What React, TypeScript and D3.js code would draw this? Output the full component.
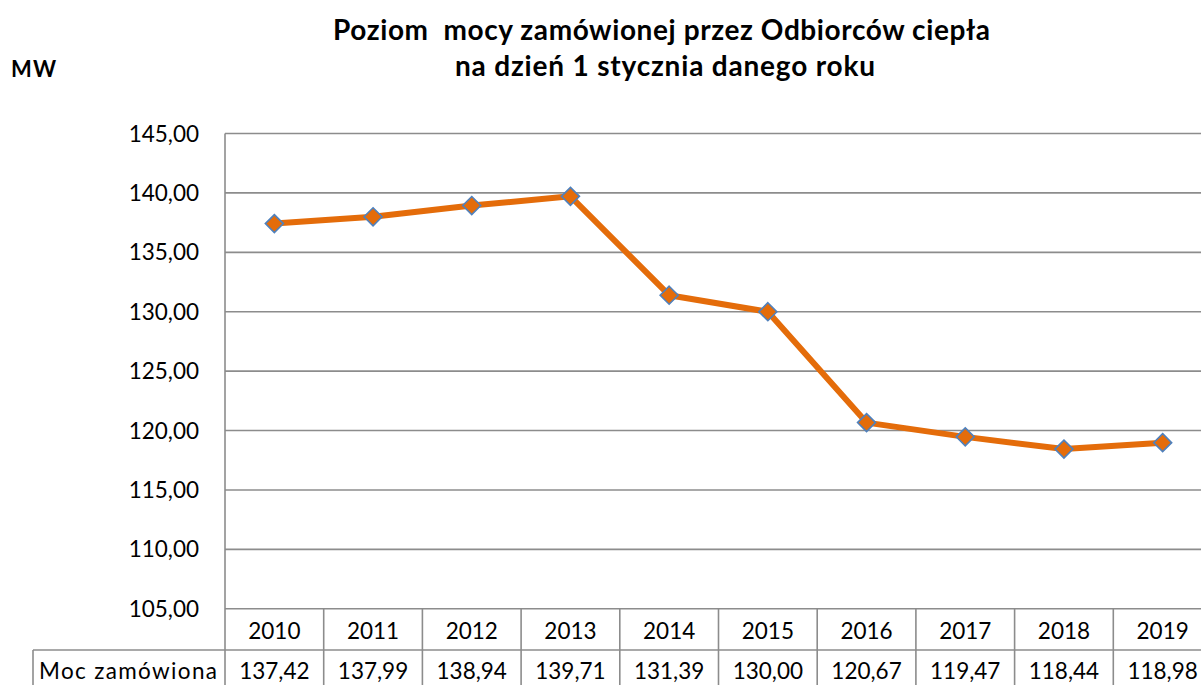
import React from "react";
import * as d3 from "d3";

const years = ["2010", "2011", "2012", "2013", "2014", "2015", "2016", "2017", "2018", "2019"];
const values = [137.42, 137.99, 138.94, 139.71, 131.39, 130.0, 120.67, 119.47, 118.44, 118.98];
const yTicks = [105, 110, 115, 120, 125, 130, 135, 140, 145];
const seriesName = "Moc zamówiona";
const titleLines = ["Poziom  mocy zamówionej przez Odbiorców ciepła", "na dzień 1 stycznia danego roku"];
const unitLabel = "MW";

const W = 1201;
const H = 685;
const FONT = "Lato, 'Noto Sans', sans-serif";
const GRID = "#8c8c8c";

export default function App() {
  const left = 225;
  const colW = 98.7;
  const right = left + colW * years.length;
  const top = 133.5;
  const bottom = 608.8;
  const rowMid = 650;
  const tableBottom = 690;
  const headerLeft = 33;

  const x = d3.scaleBand<string>().domain(years).range([left, right]).padding(0);
  const y = d3.scaleLinear().domain([105, 145]).range([bottom, top]);
  const fmt = (v: number) => d3.format(".2f")(v).replace(".", ",");

  const line = d3
    .line<number>()
    .x((_, i) => (x(years[i]) as number) + x.bandwidth() / 2)
    .y((d) => y(d));

  const diamond = (cx: number, cy: number, r: number) =>
    `M${cx},${cy - r}L${cx + r},${cy}L${cx},${cy + r}L${cx - r},${cy}Z`;

  const titleWidths = [657, 420];
  const titleCx = [661.5, 665];

  return (
    <svg
      width={W}
      height={H}
      style={{ position: "absolute", left: 0, top: 0, background: "#fff" }}
      fontFamily={FONT}
    >
      <rect x={0} y={0} width={W} height={H} fill="#fff" />
      {/* Title */}
      {titleLines.map((t, i) => (
        <text
          key={i}
          x={titleCx[i] - titleWidths[i] / 2}
          y={40 + i * 36}
          fontWeight="bold"
          fontSize={28}
          fill="#000"
          textLength={titleWidths[i]}
          lengthAdjust="spacing"
          style={{ whiteSpace: "pre" }}
        >
          {t}
        </text>
      ))}
      <text x={11} y={77} fontWeight="bold" fontSize={22} fill="#000" textLength={45} lengthAdjust="spacing">
        {unitLabel}
      </text>

      {/* Gridlines */}
      {yTicks.map((t) => (
        <line key={t} x1={left} x2={right} y1={y(t)} y2={y(t)} stroke={GRID} strokeWidth={1.6} />
      ))}
      {/* Y tick labels */}
      {yTicks.map((t) => (
        <text key={"l" + t} x={199} y={y(t) + 8} textAnchor="end" fontSize={22.5} fill="#000">
          {fmt(t)}
        </text>
      ))}
      {/* Left axis */}
      <line x1={left} x2={left} y1={top} y2={tableBottom} stroke={GRID} strokeWidth={1.6} />

      {/* Table */}
      <line x1={headerLeft} x2={right} y1={rowMid} y2={rowMid} stroke={GRID} strokeWidth={1.6} />
      <line x1={headerLeft} x2={headerLeft} y1={rowMid} y2={tableBottom} stroke={GRID} strokeWidth={1.6} />
      {years.map((yr) => (
        <line
          key={"v" + yr}
          x1={(x(yr) as number) + x.bandwidth()}
          x2={(x(yr) as number) + x.bandwidth()}
          y1={bottom}
          y2={tableBottom}
          stroke={GRID}
          strokeWidth={1.6}
        />
      ))}
      {years.map((yr) => (
        <text
          key={"y" + yr}
          x={(x(yr) as number) + x.bandwidth() / 2}
          y={639}
          textAnchor="middle"
          fontSize={22.5}
          fill="#000"
        >
          {yr}
        </text>
      ))}
      <text x={39} y={679} fontSize={22.5} fill="#000" textLength={178} lengthAdjust="spacing">
        {seriesName}
      </text>
      {values.map((v, i) => (
        <text
          key={"d" + i}
          x={(x(years[i]) as number) + x.bandwidth() / 2}
          y={679}
          textAnchor="middle"
          fontSize={22.5}
          fill="#000"
        >
          {fmt(v)}
        </text>
      ))}

      {/* Series line */}
      <path d={line(values) || ""} fill="none" stroke="#E46C0A" strokeWidth={6} strokeLinejoin="round" />
      {values.map((v, i) => (
        <path
          key={"m" + i}
          d={diamond((x(years[i]) as number) + x.bandwidth() / 2, y(v), 9)}
          fill="#E46C0A"
          stroke="#4F81BD"
          strokeWidth={1.6}
        />
      ))}
    </svg>
  );
}
